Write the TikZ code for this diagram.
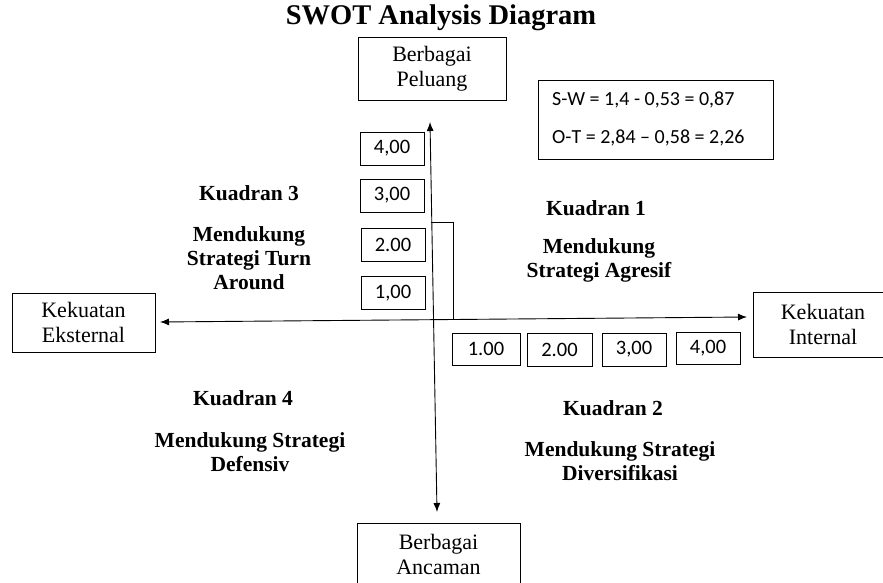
\documentclass[tikz,border=0pt]{standalone}
\usepackage{fontspec}
\setmainfont{Liberation Serif}
\newfontfamily\numfont{Carlito}
\usetikzlibrary{arrows.meta}
\begin{document}
\begin{tikzpicture}[x=1pt,y=-1pt,
  lbox/.style={draw,line width=0.9pt,align=center,inner sep=0pt,
    font=\fontsize{22}{25}\selectfont},
  numbox/.style={draw,line width=0.9pt,inner sep=0pt,minimum width=64pt,minimum height=33pt,
    font=\numfont\fontsize{20.5}{22}\selectfont},
  quad/.style={align=center,inner sep=0pt,font=\bfseries\fontsize{21.5}{24}\selectfont},
  axis/.style={line width=0.9pt,{Latex[length=9pt,width=7pt]}-{Latex[length=9pt,width=7pt]}},
  ftext/.style={anchor=west,inner sep=0pt,font=\numfont\fontsize{20}{22}\selectfont}
]
\useasboundingbox (0,0) rectangle (883,583);
% title
\node[font=\bfseries\fontsize{28.5}{32}\selectfont,inner sep=0pt] (title) at (441,18) {SWOT Analysis Diagram};
% end boxes
\node[lbox,minimum width=148pt,minimum height=63pt] (peluang) at (432,68.5) {Berbagai\\Peluang};
\node[lbox,minimum width=163pt,minimum height=63pt] (ancaman) at (438.5,554.5) {Berbagai\\Ancaman};
\node[lbox,minimum width=143pt,minimum height=59pt] (eksternal) at (83.5,322.5) {Kekuatan\\Eksternal};
\node[lbox,minimum width=150pt,minimum height=65pt] (internal) at (828,324.5) {\hspace*{-10pt}Kekuatan\\\hspace*{-10pt}Internal};
% axes
\coordinate (ytop) at (430,122);
\coordinate (ybot) at (437,512);
\coordinate (xleft) at (160,322);
\coordinate (xright) at (747,317);
\draw[axis] (xleft) -- (xright);
\draw[axis] (ytop) -- (ybot);
% bracket
\coordinate (b1) at (431,222);
\coordinate (b2) at (453,222);
\coordinate (b3) at (453,320);
\draw[line width=0.9pt] (b1) -- (b2) -- (b3);
% y-axis scale
\node[numbox] (y4) at (392,148.5) {4,00};
\node[numbox] (y3) at (392,195.5) {3,00};
\node[numbox] (y2) at (393,244.5) {2.00};
\node[numbox] (y1) at (393,293) {1,00};
% x-axis scale
\node[numbox,minimum width=68pt,minimum height=32pt] (x1) at (486,349) {1.00};
\node[numbox,minimum width=65pt] (x2) at (559.5,349.5) {\raisebox{-2pt}{2.00}};
\node[numbox] (x3) at (634,349.5) {3,00};
\node[numbox,minimum height=32pt] (x4) at (708,348) {4,00};
% formula box
\node[draw,line width=0.9pt,minimum width=235pt,minimum height=79pt,inner sep=0pt] (fbox) at (655.5,119.5) {};
\node[ftext] (f1) at (552,100) {S-W = 1,4 - 0,53 = 0,87};
\node[ftext] (f2) at (552,138) {O-T = 2,84 – 0,58 = 2,26};
% quadrants
\node[quad] (k3) at (249,193) {Kuadran 3};
\node[quad] (k3b) at (249,258) {Mendukung\\Strategi Turn\\Around};
\node[quad] (k1) at (596,208) {Kuadran 1};
\node[quad] (k1b) at (599,260) {Mendukung\\Strategi Agresif};
\node[quad] (k4) at (243,398) {Kuadran 4};
\node[quad] (k4b) at (250,452) {Mendukung Strategi\\Defensiv};
\node[quad] (k2) at (613,408) {Kuadran 2};
\node[quad] (k2b) at (620,461) {Mendukung Strategi\\Diversifikasi};
\end{tikzpicture}
\end{document}
